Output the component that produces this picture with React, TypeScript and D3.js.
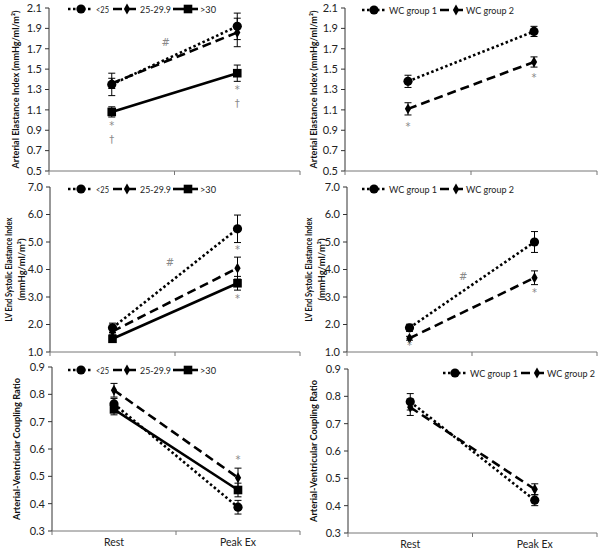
import React from "react";
import * as d3 from "d3";

const categories = ["Rest", "Peak Ex"];
const bmiGroups = ["<25", "25-29.9", ">30"];
const wcGroups = ["WC group 1", "WC group 2"];

const eaTicks = [0.5, 0.7, 0.9, 1.1, 1.3, 1.5, 1.7, 1.9, 2.1];
const eesTicks = [1, 2, 3, 4, 5, 6, 7];
const avTicks = [0.3, 0.4, 0.5, 0.6, 0.7, 0.8, 0.9];

// Arterial Elastance Index by BMI
const eaBmiMean = [[1.35, 1.92], [1.36, 1.86], [1.08, 1.46]];
const eaBmiErr = [[0.11, 0.13], [0.05, 0.14], [0.05, 0.08]];
// Arterial Elastance Index by WC
const eaWcMean = [[1.38, 1.87], [1.11, 1.57]];
const eaWcErr = [[0.06, 0.05], [0.06, 0.05]];
// LV End Systolic Elastance Index by BMI
const eesBmiMean = [[1.88, 5.48], [1.75, 4.05], [1.48, 3.5]];
const eesBmiErr = [[0.17, 0.5], [0.1, 0.4], [0.05, 0.25]];
// LV End Systolic Elastance Index by WC
const eesWcMean = [[1.88, 5.0], [1.5, 3.7]];
const eesWcErr = [[0.13, 0.38], [0.07, 0.25]];
// Arterial-Ventricular Coupling Ratio by BMI
const avBmiMean = [[0.765, 0.387], [0.815, 0.495], [0.745, 0.45]];
const avBmiErr = [[0.02, 0.025], [0.025, 0.035], [0.02, 0.025]];
// Arterial-Ventricular Coupling Ratio by WC
const avWcMean = [[0.78, 0.42], [0.76, 0.46]];
const avWcErr = [[0.03, 0.02], [0.03, 0.02]];

// significance marks: x is category index (0 Rest, 1 Peak Ex), v is value
const eaBmiNotes = [
  { x: 0, v: 0.95, t: "*" }, { x: 0, v: 0.81, t: "†" },
  { x: 1, v: 1.3, t: "*" }, { x: 1, v: 1.16, t: "†" },
  { x: 0.43, v: 1.76, t: "#" },
];
const eaWcNotes = [{ x: 0, v: 0.94, t: "*" }, { x: 1, v: 1.42, t: "*" }];
const eesBmiNotes = [
  { x: 0.46, v: 4.24, t: "#" }, { x: 1, v: 4.71, t: "*" }, { x: 1, v: 2.96, t: "*" },
];
const eesWcNotes = [
  { x: 0.43, v: 3.76, t: "#" }, { x: 1, v: 3.18, t: "*" }, { x: 0, v: 1.25, t: "*" },
];
const avBmiNotes = [{ x: 1, v: 0.56, t: "*" }];
const avWcNotes: { x: number; v: number; t: string }[] = [];

const FONT = "Lato, 'Open Sans', sans-serif";
const styles = [
  { dash: "2.5,2.5", marker: "circle" },
  { dash: "9,5", marker: "diamond" },
  { dash: "", marker: "square" },
];

function Marker({ type, x, y }: { type: string; x: number; y: number }) {
  if (type === "circle") return <circle cx={x} cy={y} r={4.6} fill="#000" />;
  if (type === "diamond") {
    const p = d3.symbol(d3.symbolDiamond, 34)();
    return <path d={p as string} transform={`translate(${x},${y})`} fill="#000" />;
  }
  return <rect x={x - 4.3} y={y - 4.3} width={8.6} height={8.6} fill="#000" />;
}

type Legend = { y: number; items: { x0: number; x1: number; m: number; tx: number; tl: number }[] };

function Panel(props: {
  x0: number; x1: number; y0: number; y1: number;
  ticks: number[]; fmt: string;
  means: number[][]; errs: number[][]; names: string[];
  notes: { x: number; v: number; t: string }[];
  titles: string[]; titleX: number[]; titleLen: number[];
  legend: Legend; showCats: boolean;
}) {
  const { x0, x1, y0, y1, ticks } = props;
  const x = d3.scaleLinear().domain([-0.5, 1.5]).range([x0, x1]);
  const y = d3.scaleLinear().domain([ticks[0], ticks[ticks.length - 1]]).range([y1, y0]);
  const f = d3.format(props.fmt);
  const line = d3.line<number>().x((_, i) => x(i)).y((d) => y(d));
  const cy = (y0 + y1) / 2;
  return (
    <g>
      {/* y axis */}
      <line x1={x0} x2={x0} y1={y0} y2={y1} stroke="#333" strokeWidth={1} />
      {ticks.map((t) => (
        <g key={t}>
          <line x1={x0 - 4} x2={x0} y1={y(t)} y2={y(t)} stroke="#333" />
          <text x={x0 - 7} y={y(t)} dy="0.35em" textAnchor="end" fontSize={11} fill="#222" fontFamily={FONT}>
            {f(t)}
          </text>
        </g>
      ))}
      {/* x axis */}
      <line x1={x0} x2={x1} y1={y1} y2={y1} stroke="#777" strokeWidth={1} />
      {[-0.5, 0.5, 1.5].map((t) => (
        <line key={t} x1={x(t)} x2={x(t)} y1={y1} y2={y1 + 4} stroke="#777" />
      ))}
      {props.showCats &&
        categories.map((c, i) => (
          <text key={c} x={x(i)} y={y1 + 15} textAnchor="middle" fontSize={10.5} fill="#222" fontFamily={FONT}>
            {c}
          </text>
        ))}
      {/* y title */}
      {props.titles.map((t, i) => (
        <text
          key={i}
          transform={`translate(${props.titleX[i]},${cy}) rotate(-90)`}
          textAnchor="middle"
          dy="0.35em"
          fontSize={9.5}
          fontWeight="bold"
          fill="#111"
          fontFamily={FONT}
          textLength={props.titleLen[i]}
          lengthAdjust="spacingAndGlyphs"
        >
          {t}
        </text>
      ))}
      {/* series */}
      {props.means.map((m, si) => (
        <g key={si}>
          <path d={line(m) as string} fill="none" stroke="#000" strokeWidth={2.6} strokeDasharray={styles[si].dash} />
          {m.map((v, i) => {
            const e = props.errs[si][i];
            return (
              <g key={i}>
                <line x1={x(i)} x2={x(i)} y1={y(v - e)} y2={y(v + e)} stroke="#000" strokeWidth={1} />
                <line x1={x(i) - 3.5} x2={x(i) + 3.5} y1={y(v - e)} y2={y(v - e)} stroke="#000" strokeWidth={1} />
                <line x1={x(i) - 3.5} x2={x(i) + 3.5} y1={y(v + e)} y2={y(v + e)} stroke="#000" strokeWidth={1} />
                <Marker type={styles[si].marker} x={x(i)} y={y(v)} />
              </g>
            );
          })}
        </g>
      ))}
      <g opacity={0.99}>
        {props.notes.map((n, i) => (
          <text key={i} x={x(n.x)} y={y(n.v)} dy="0.35em" textAnchor="middle" fontSize={10} fill="#888" fontFamily="'DejaVu Sans', sans-serif">
            {n.t}
          </text>
        ))}
      </g>
      {/* legend */}
      {props.names.map((nm, si) => {
        const it = props.legend.items[si];
        const ly = props.legend.y;
        return (
          <g key={nm}>
            <line x1={it.x0} x2={it.x1} y1={ly} y2={ly} stroke="#000" strokeWidth={2.6} strokeDasharray={styles[si].dash} />
            <Marker type={styles[si].marker} x={it.m} y={ly} />
            <text x={it.tx} y={ly} dy="0.35em" fontSize={10} fill="#222" fontFamily={FONT}
              textLength={it.tl} lengthAdjust="spacingAndGlyphs">
              {nm}
            </text>
          </g>
        );
      })}
    </g>
  );
}

const bmiLegend = (y: number): Legend => ({
  y,
  items: [
    { x0: 68, x1: 93, m: 81, tx: 96, tl: 13 },
    { x0: 113, x1: 137, m: 127, tx: 140, tl: 31 },
    { x0: 173, x1: 198, m: 188, tx: 200, tl: 16 },
  ],
});
const wcLegend = (y: number, s: number): Legend => ({
  y,
  items: [
    { x0: s, x1: s + 23, m: s + 12, tx: s + 27, tl: 48 },
    { x0: s + 78, x1: s + 101, m: s + 94, tx: s + 104, tl: 48 },
  ],
});

export default function App() {
  return (
    <svg width={600} height={550} style={{ position: "absolute", left: 0, top: 0, background: "#fff" }}>
      <Panel x0={49} x1={300} y0={8} y1={171} ticks={eaTicks} fmt=".1f"
        means={eaBmiMean} errs={eaBmiErr} names={bmiGroups} notes={eaBmiNotes}
        titles={["Arterial Elastance Index  (mmHg/ml/m²)"]} titleX={[16]} titleLen={[158]}
        legend={bmiLegend(9)} showCats={false} />
      <Panel x0={345} x1={597} y0={8} y1={171} ticks={eaTicks} fmt=".1f"
        means={eaWcMean} errs={eaWcErr} names={wcGroups} notes={eaWcNotes}
        titles={["Arterial Elastance Index  (mmHg/ml/m²)"]} titleX={[314]} titleLen={[158]}
        legend={wcLegend(10, 362)} showCats={false} />
      <Panel x0={50} x1={300} y0={187} y1={352} ticks={eesTicks} fmt=".1f"
        means={eesBmiMean} errs={eesBmiErr} names={bmiGroups} notes={eesBmiNotes}
        titles={["LV End  Systolic Elastance Index", "(mmHg/ml/m²)"]} titleX={[9, 22]} titleLen={[104, 62]}
        legend={bmiLegend(189)} showCats={false} />
      <Panel x0={347} x1={597} y0={187} y1={352} ticks={eesTicks} fmt=".1f"
        means={eesWcMean} errs={eesWcErr} names={wcGroups} notes={eesWcNotes}
        titles={["LV End  Systolic Elastance Index", "(mmHg/ml/m²)"]} titleX={[309, 322]} titleLen={[104, 62]}
        legend={wcLegend(189, 362)} showCats={false} />
      <Panel x0={52} x1={300} y0={367} y1={531} ticks={avTicks} fmt=".1f"
        means={avBmiMean} errs={avBmiErr} names={bmiGroups} notes={avBmiNotes}
        titles={["Arterial-Ventricular Coupling Ratio"]} titleX={[17]} titleLen={[142]}
        legend={bmiLegend(370)} showCats={true} />
      <Panel x0={348} x1={597} y0={369} y1={533} ticks={avTicks} fmt=".1f"
        means={avWcMean} errs={avWcErr} names={wcGroups} notes={avWcNotes}
        titles={["Arterial-Ventricular Coupling Ratio"]} titleX={[314]} titleLen={[142]}
        legend={wcLegend(373, 443)} showCats={true} />
    </svg>
  );
}
